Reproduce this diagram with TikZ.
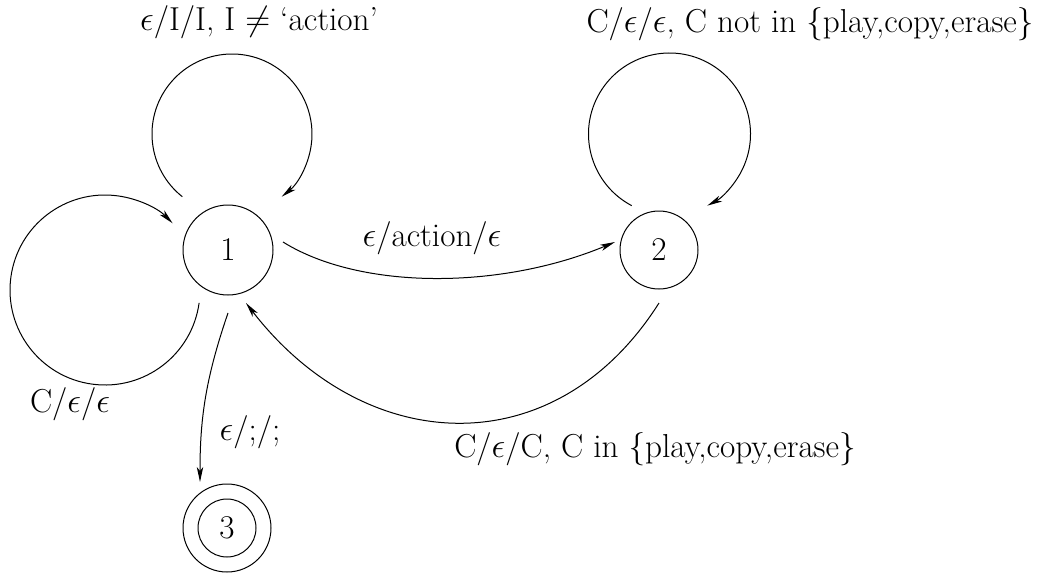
\documentclass[tikz,border=0pt]{standalone}
\usetikzlibrary{arrows.meta,calc}
\begin{document}
\begin{tikzpicture}[x=0.5pt,y=-0.5pt,
  every node/.style={font=\fontsize{16.6}{19}\selectfont},
  state/.style={draw,circle,inner sep=0pt,line width=0.5pt},
  lbl/.style={anchor=base,inner sep=0pt},
  arr/.style={line width=0.5pt,-{Stealth[length=7.5pt,width=3.2pt,inset=2pt]}}]
\useasboundingbox (0,0) rectangle (1039,574);

% states
\node[state,minimum size=45pt] (n1) at (228,250) {1};
\node[state,minimum size=39pt] (n2) at (659,250) {2};
\node[state,minimum size=29pt] (n3) at (227,528) {3};
% outer ring of the final state
\draw[line width=0.5pt] (n3) circle[radius=44];

% end points of the transitions, placed around the states
\coordinate (a12) at ($(n1)+(55,-8)$);
\coordinate (b12) at ($(n2)+(-44,-8)$);
\coordinate (a21) at ($(n2)+(0,53)$);
\coordinate (b21) at ($(n1)+(18,53)$);
\coordinate (a13) at ($(n1)+(0,63)$);
\coordinate (b13) at ($(n3)+(-27,-46)$);

% centres of the self loops
\coordinate (c1top) at ($(n1)+(4,-116)$);
\coordinate (c1left) at ($(n1)+(-123,40)$);
\coordinate (c2top) at ($(n2)+(10.5,-116)$);

% transitions
\draw[arr] (a12) .. controls (360,290) and (500,290) .. (b12);
\draw[arr] (a21) .. controls (555,467) and (365,457) .. (b21);
\draw[arr] (a13) .. controls (205,380) and (200,420) .. (b13);

% self loops
\draw[arr] ($(c1top)+(128.4:80)$) arc[start angle=128.4,end angle=411.6,radius=80];
\draw[arr] ($(c1left)+(7.8:95)$) arc[start angle=7.8,end angle=315.4,radius=95];
\draw[arr] ($(c2top)+(117.8:81)$) arc[start angle=117.8,end angle=422.2,radius=81];

% labels
\node[lbl] (t11) at (259,30) {$\epsilon$/I/I, I $\neq$ `action'};
\node[lbl] (t22) at (810,32) {C/$\epsilon$/$\epsilon$, C not in \{play,copy,erase\}};
\node[lbl] (t12) at (432,246) {$\epsilon$/action/$\epsilon$};
\node[lbl] (t11b) at (70,412) {C/$\epsilon$/$\epsilon$};
\node[lbl] (t13) at (250,440) {$\epsilon$/;/;};
\node[lbl] (t21) at (655,457) {C/$\epsilon$/C, C in \{play,copy,erase\}};
\end{tikzpicture}
\end{document}
